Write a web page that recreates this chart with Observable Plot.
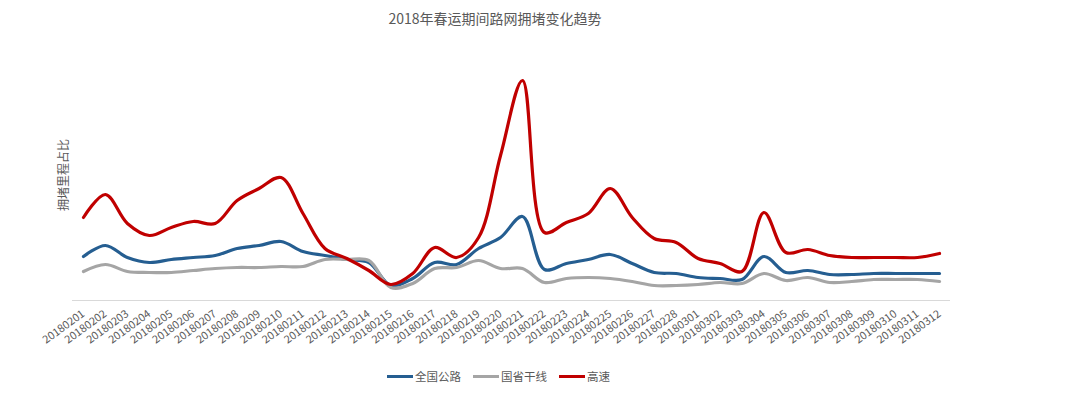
<!DOCTYPE html>
<html>
<head>
<meta charset="utf-8">
<script src="https://cdn.jsdelivr.net/npm/d3@7"></script>
<script src="https://cdn.jsdelivr.net/npm/@observablehq/plot@0.6"></script>
<style>
  html, body { margin: 0; padding: 0; background: #fff; }
  #wrap { position: relative; width: 1080px; height: 396px; font-family: "Noto Sans CJK SC", "Noto Sans", sans-serif; color: #595959; }
  #title { position: absolute; top: 8px; left: 0; width: 990px; text-align: center; font-size: 14px; line-height: 20px; }
  #ylabel { position: absolute; left: 62px; top: 175px; transform: translate(-50%, -50%) rotate(-90deg); font-size: 12px; white-space: nowrap; }
  #legend { position: absolute; top: 368px; left: 387px; display: flex; align-items: center; font-size: 11.5px; line-height: 16px; }
  .item { display: flex; align-items: center; margin-right: 12px; }
  .sw { width: 26px; height: 3px; margin-right: 2px; }
  #chart { position: absolute; left: 0; top: 0; }
</style>
</head>
<body>
<div id="wrap">
  <div id="chart"></div>
  <div id="title">2018年春运期间路网拥堵变化趋势</div>
  <div id="ylabel">拥堵里程占比</div>
  <div id="legend"></div>
</div>
<script>
const dates = ["20180201","20180202","20180203","20180204","20180205","20180206","20180207","20180208","20180209","20180210",
  "20180211","20180212","20180213","20180214","20180215","20180216","20180217","20180218","20180219","20180220",
  "20180221","20180222","20180223","20180224","20180225","20180226","20180227","20180228","20180301","20180302",
  "20180303","20180304","20180305","20180306","20180307","20180308","20180309","20180310","20180311","20180312"];

const seriesNames = ["全国公路", "国省干线", "高速"];
const seriesColors = ["#255e91", "#a5a5a5", "#c00000"];

// 全国公路
const national = [44,55,43,38,41,43,45,52,55,59, 49,45,41,38,15,22,38,36,52,63,
  84,31,37,41,46,37,28,27,23,22, 21,44,28,30,26,26,27,27,27,27];
// 国省干线
const trunk = [29,36,29,28,28,30,32,33,33,34, 34,41,41,40,13,17,32,33,40,32,
  32,18,22,23,22,19,15,15,16,18, 17,27,20,23,18,19,21,21,21,19];
// 高速
const expressway = [83,106,77,65,73,79,77,100,112,123, 87,52,42,30,16,27,53,43,63,145,
  220,68,78,87,112,83,62,58,42,37, 29,88,48,51,45,43,43,43,43,47];

const valuesBySeries = [national, trunk, expressway];
const data = [];
seriesNames.forEach((s, k) => {
  dates.forEach((d, i) => data.push({series: s, date: d, value: valuesBySeries[k][i]}));
});

const chart = Plot.plot({
  width: 1080,
  height: 396,
  marginLeft: 72,
  marginRight: 130,
  marginTop: 80,
  marginBottom: 96,
  style: {fontFamily: '"Noto Sans CJK SC", "Noto Sans", sans-serif', color: "#595959", background: "transparent"},
  x: {type: "point", domain: dates, padding: 0.5},
  y: {domain: [0, 220], axis: null},
  color: {domain: seriesNames, range: seriesColors},
  marks: [
    Plot.ruleY([0], {stroke: "#d9d9d9", strokeWidth: 1}),
    Plot.axisX({tickRotate: -36, tickSize: 0, tickPadding: 12, fontSize: 11, label: null}),
    Plot.line(data, {x: "date", y: "value", z: "series", stroke: "series", strokeWidth: 3.2, curve: "catmull-rom"})
  ]
});
document.getElementById("chart").appendChild(chart);

const legend = document.getElementById("legend");
seriesNames.forEach((s, k) => {
  const item = document.createElement("div");
  item.className = "item";
  const sw = document.createElement("div");
  sw.className = "sw";
  sw.style.background = seriesColors[k];
  const t = document.createElement("span");
  t.textContent = s;
  item.appendChild(sw);
  item.appendChild(t);
  legend.appendChild(item);
});
</script>
</body>
</html>
